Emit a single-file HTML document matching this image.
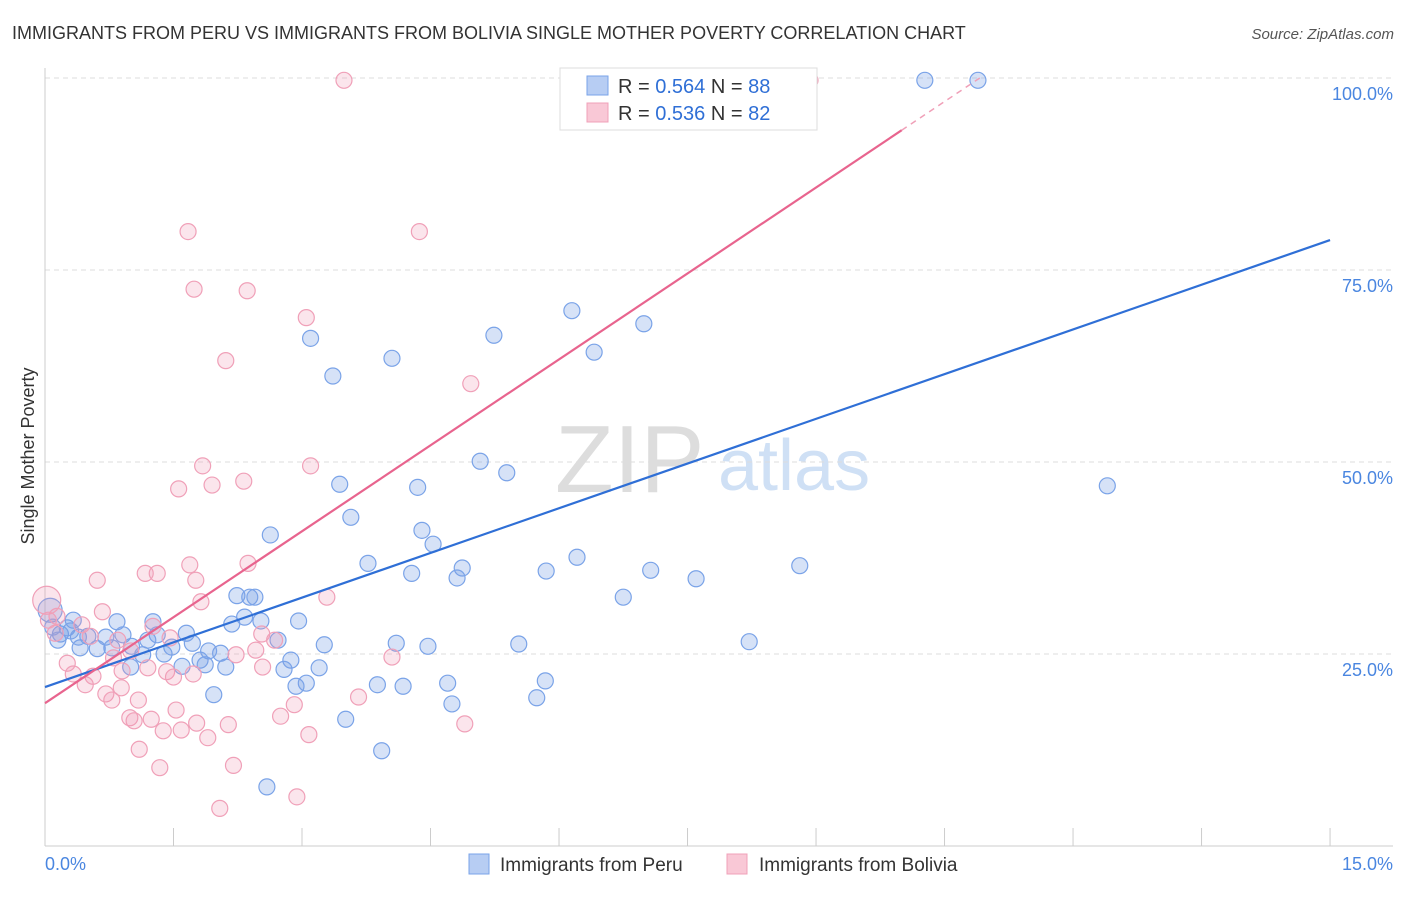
<!DOCTYPE html>
<html><head><meta charset="utf-8"><style>
body{margin:0;background:#fff;font-family:"Liberation Sans",sans-serif;}
svg text{font-family:"Liberation Sans",sans-serif;}
</style></head><body>
<svg id="chart" width="1406" height="892">
<text x="12" y="39" font-size="18" fill="#333">IMMIGRANTS FROM PERU VS IMMIGRANTS FROM BOLIVIA SINGLE MOTHER POVERTY CORRELATION CHART</text>
<text x="1394" y="39" font-size="15" fill="#555" font-style="italic" text-anchor="end">Source: ZipAtlas.com</text>
<text x="555" y="492" font-size="96" fill="#ddd" font-family="Liberation Serif">ZIP</text>
<text x="718" y="490" font-size="72" fill="#cfe0f5">atlas</text>
<text x="34" y="456" font-size="18" fill="#333" text-anchor="middle" transform="rotate(-90 34 456)">Single Mother Poverty</text>
<g id="grid"></g><g id="pts"></g><g id="lines"></g>
<g>
<rect x="560" y="68" width="257" height="62" fill="#fff" stroke="#ddd"/>
<rect x="587" y="76" width="21" height="19" fill="#b7cdf3" stroke="#7aa3e8"/>
<rect x="587" y="103" width="21" height="19" fill="#f9c8d6" stroke="#f0a0b8"/>
<text x="618" y="93" font-size="20" fill="#333">R = <tspan fill="#2f6fd6">0.564</tspan>   N = <tspan fill="#2f6fd6">88</tspan></text>
<text x="618" y="120" font-size="20" fill="#333">R = <tspan fill="#2f6fd6">0.536</tspan>   N = <tspan fill="#2f6fd6">82</tspan></text>
</g>
<g>
<rect x="469" y="854" width="20" height="20" fill="#b7cdf3" stroke="#7aa3e8"/>
<text x="500" y="871" font-size="19" fill="#333">Immigrants from Peru</text>
<rect x="727" y="854" width="20" height="20" fill="#f9c8d6" stroke="#f0a0b8"/>
<text x="759" y="871" font-size="19" fill="#333">Immigrants from Bolivia</text>
</g>
</svg>
<script>
const xTicks=[0,1.5,3,4.5,6,7.5,9,10.5,12,13.5,15];
const yTicks=[25,50,75,100];
const yTickLabels=["25.0%","50.0%","75.0%","100.0%"];
const peruX=[10.27,10.89,6.89,6.15,6.99,5.24,3.10,6.41,4.05,3.36,5.08,5.39,12.40,3.44,4.35,3.57,2.63,4.40,4.53,6.21,3.77,8.81,4.87,5.85,7.07,4.28,4.81,7.60,6.75,2.24,2.39,2.45,2.18,2.33,2.52,2.96,1.26,0.84,0.33,1.65,1.31,0.91,0.71,0.50,0.18,2.72,1.72,1.48,1.20,1.01,3.26,4.10,4.47,5.53,8.22,0.61,0.78,0.41,1.39,1.14,2.05,1.91,1.81,2.87,1.87,2.11,1.60,1.00,3.20,2.79,5.84,3.05,3.88,4.18,4.70,2.93,1.97,5.74,4.75,3.51,3.93,2.59,0.06,0.09,0.26,0.15,0.39,0.30];
const peruY=[99.7,99.7,99.7,69.7,68.0,66.5,66.1,64.3,63.5,61.2,50.1,48.6,46.9,47.1,46.7,42.8,40.5,41.1,39.3,37.6,36.8,36.5,36.2,35.8,35.9,35.5,34.9,34.8,32.4,32.6,32.4,32.4,28.9,29.8,29.3,29.3,29.2,29.2,29.4,27.7,27.5,27.5,27.2,27.3,27.6,26.8,26.4,25.9,26.8,26.0,26.2,26.4,26.0,26.3,26.6,25.7,25.8,25.8,25.0,24.9,25.1,25.4,24.2,24.2,23.6,23.3,23.4,23.3,23.2,23.0,21.5,21.2,21.0,20.8,21.2,20.8,19.7,19.3,18.5,16.5,12.4,7.7,30.7,28.5,28.4,26.8,27.2,28.0];
const bolX=[3.49,8.93,1.67,4.37,1.74,2.36,3.05,2.11,4.97,1.84,3.10,1.95,2.32,1.56,2.37,1.69,1.31,1.17,0.61,1.76,1.82,3.29,0.67,0.43,1.26,0.14,2.53,2.68,1.46,0.85,0.53,2.46,1.00,0.80,0.26,2.23,1.20,1.42,1.73,2.54,0.90,0.56,0.33,1.50,4.05,0.47,0.89,0.71,3.66,1.09,0.78,2.91,1.53,0.99,1.04,1.24,2.75,1.77,2.14,4.90,1.38,1.59,1.90,3.08,1.10,2.20,1.34,2.04,2.94,0.02,0.12,0.04];
const bolY=[99.7,99.7,80.0,80.0,72.5,72.3,68.8,63.2,60.2,49.5,49.5,47.0,47.5,46.5,36.8,36.6,35.5,35.5,34.6,34.6,31.8,32.4,30.5,28.8,28.6,29.9,27.6,26.8,27.1,26.8,27.3,25.5,25.4,24.5,23.8,24.9,23.2,22.7,22.4,23.3,22.8,22.1,22.4,22.0,24.6,21.0,20.6,19.8,19.4,19.0,19.0,18.4,17.7,16.7,16.3,16.5,16.9,16.0,15.8,15.9,15.0,15.1,14.1,14.5,12.6,10.5,10.2,4.9,6.4,32.0,27.7,29.4];
const peruLine=[20.7,78.9];
const bolLine=[18.6,93.2];
const bolSolidEnd=10.0;
const NS="http://www.w3.org/2000/svg";
const X=v=>45+v*85.67, Y=v=>846-v*7.68;
function mk(t,a,p){const e=document.createElementNS(NS,t);for(const k in a)e.setAttribute(k,a[k]);p.appendChild(e);return e;}
const grid=document.getElementById('grid');
yTicks.forEach((t,i)=>{
 const l=mk('line',{x1:45,x2:1393,y1:Y(t),y2:Y(t),stroke:'#ddd','stroke-dasharray':'5,4'},grid);
 
 
 const tx=mk('text',{x:1393,y:Y(t)+22,'font-size':18,fill:'#4a86e0','text-anchor':'end'},grid);
 tx.textContent=yTickLabels[i];
 
 
});
const ax=mk('line',{x1:45,x2:1393,y1:846,y2:846,stroke:'#ccc'},grid);


const ay=mk('line',{x1:45,x2:45,y1:68,y2:846,stroke:'#ccc'},grid);


xTicks.forEach(t=>{const l=mk('line',{x1:X(t),x2:X(t),y1:828,y2:846,stroke:'#ccc'},grid);
 
 });
const t0=mk('text',{x:45,y:870,'font-size':18,fill:'#4a86e0'},grid);t0.textContent='0.0%';


const t1=mk('text',{x:1393,y:870,'font-size':18,fill:'#4a86e0','text-anchor':'end'},grid);t1.textContent='15.0%';


const pts=document.getElementById('pts');
peruX.forEach((x,i)=>{const r=(i>=82&&i<83)?12:8;const c=mk('circle',{cx:X(x),cy:Y(peruY[i]),r:r,fill:'rgba(120,160,230,0.3)',stroke:'#7aa3e8','stroke-width':1.2},pts);
 
 });
bolX.forEach((x,i)=>{const r=(i==69)?14:8;const c=mk('circle',{cx:X(x),cy:Y(bolY[i]),r:r,fill:'rgba(240,150,180,0.25)',stroke:'#f0a0b8','stroke-width':1.2},pts);
 
 });
const lines=document.getElementById('lines');
const pl=mk('line',{x1:X(0),y1:Y(peruLine[0]),x2:X(15),y2:Y(peruLine[1]),stroke:'#2f6fd6','stroke-width':2.2},lines);


const bs=(bolLine[1]-bolLine[0])/bolSolidEnd;
const bl=mk('line',{x1:X(0),y1:Y(bolLine[0]),x2:X(bolSolidEnd),y2:Y(bolLine[1]),stroke:'#e8648e','stroke-width':2.2},lines);


const xe=(100-bolLine[0])/bs;
const bd=mk('line',{x1:X(bolSolidEnd),y1:Y(bolLine[1]),x2:X(xe),y2:Y(100),stroke:'#f0a0b8','stroke-width':1.5,'stroke-dasharray':'6,5'},lines);


</script>
</body></html>
